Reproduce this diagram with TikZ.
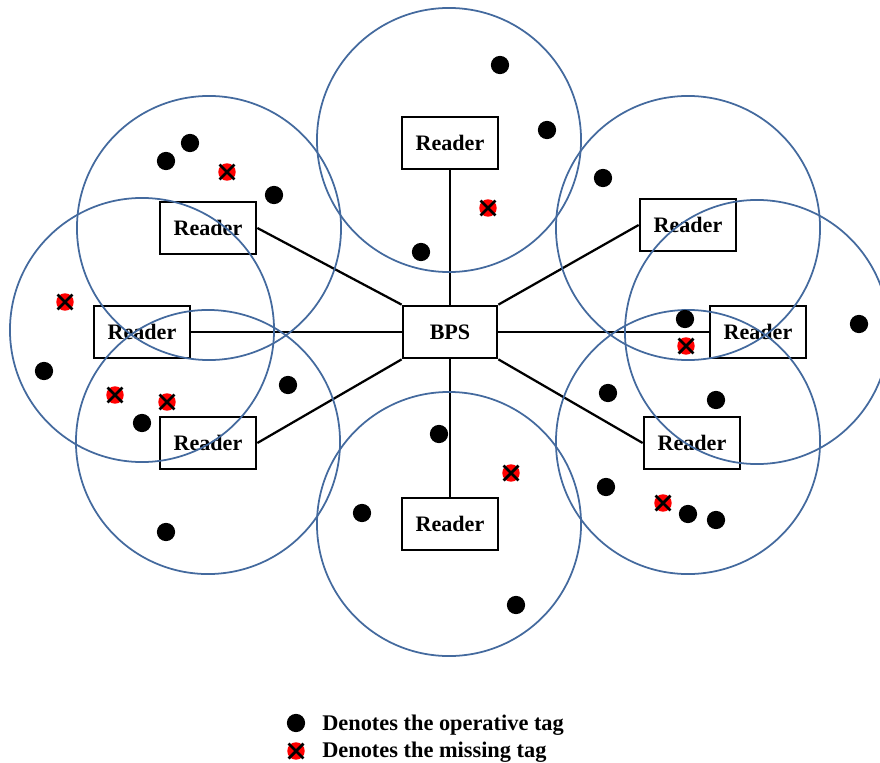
\documentclass[tikz,border=0pt]{standalone}
\usepackage{fontspec}
\setmainfont{Liberation Serif}
\usepackage{xcolor}
\usepackage{tikz}
\usetikzlibrary{positioning,calc}

\definecolor{zoneblue}{RGB}{68,106,158}

\begin{document}
\begin{tikzpicture}[
    x=0.025cm, y=-0.025cm,
    reader/.style={rectangle, draw, line width=1.9pt, minimum width=2.4cm, minimum height=1.3cm, inner sep=0pt, font=\fontsize{15.7}{18}\selectfont\bfseries},
    hub/.style={reader, minimum width=2.35cm},
    link/.style={line width=1.6pt},
    zone/.style={draw=zoneblue, line width=1.25pt},
    legend/.style={anchor=base west, inner sep=0pt, font=\fontsize{15.9}{18}\selectfont\bfseries}
]
\useasboundingbox (0,0) rectangle (880,762);

% readers and BPS
\node[hub] (bps) at (450,332) {BPS};
\node[reader] (rt) at (450,143) {Reader};
\node[reader] (rb) at (450,524) {Reader};
\node[reader] (rul) at (208,228) {Reader};
\node[reader] (rl) at (142,332) {Reader};
\node[reader] (rll) at (208,443) {Reader};
\node[reader] (rur) at (688,225) {Reader};
\node[reader] (rr) at (758,332) {Reader};
\node[reader] (rlr) at (692,443) {Reader};

\draw[link] (bps.north) -- (rt.south);
\draw[link] (bps.south) -- (rb.north);
\draw[link] (bps.west) -- (rl.east);
\draw[link] (bps.east) -- (rr.west);
\draw[link] (bps.north west) -- (rul.east);
\draw[link] (bps.south west) -- (rll.east);
\draw[link] (bps.north east) -- (rur.west);
\draw[link] (bps.south east) -- (rlr.west);

% reading ranges
\foreach \cx/\cy in {449/140, 449/524, 209/228, 142/330, 208/442, 688/228, 757/332, 688/442}
    \draw[zone] (\cx,\cy) circle[radius=3.3cm];

% operative tags
\foreach \tx/\ty in {500/65, 547/130, 421/252, 603/178, 190/143, 166/161, 274/195, 44/371,
    288/385, 142/423, 166/532, 439/434, 362/513, 516/605, 685/319, 859/324, 608/393,
    716/400, 606/487, 688/514, 716/520}
    \fill (\tx,\ty) circle[radius=6.5pt];

% missing tags
\foreach \tx/\ty in {227/172, 488/208, 65/302, 115/395, 167/402, 511/473, 686/346, 663/503} {
    \fill[red] (\tx,\ty) circle[radius=6.2pt];
    \draw[line width=2pt] (\tx,\ty) +(-5.3pt,-5.3pt) -- +(5.3pt,5.3pt)
        (\tx,\ty) +(-5.3pt,5.3pt) -- +(5.3pt,-5.3pt);
}

% legend
\fill (296,723) circle[radius=6.5pt];
\node[legend] (opkey) at (322,730) {Denotes the operative tag};
\fill[red] (296,751) circle[radius=6.2pt];
\draw[line width=2pt] (296,751) +(-5.3pt,-5.3pt) -- +(5.3pt,5.3pt)
    (296,751) +(-5.3pt,5.3pt) -- +(5.3pt,-5.3pt);
\node[legend] (miskey) at (322,757) {Denotes the missing tag};

\end{tikzpicture}
\end{document}
